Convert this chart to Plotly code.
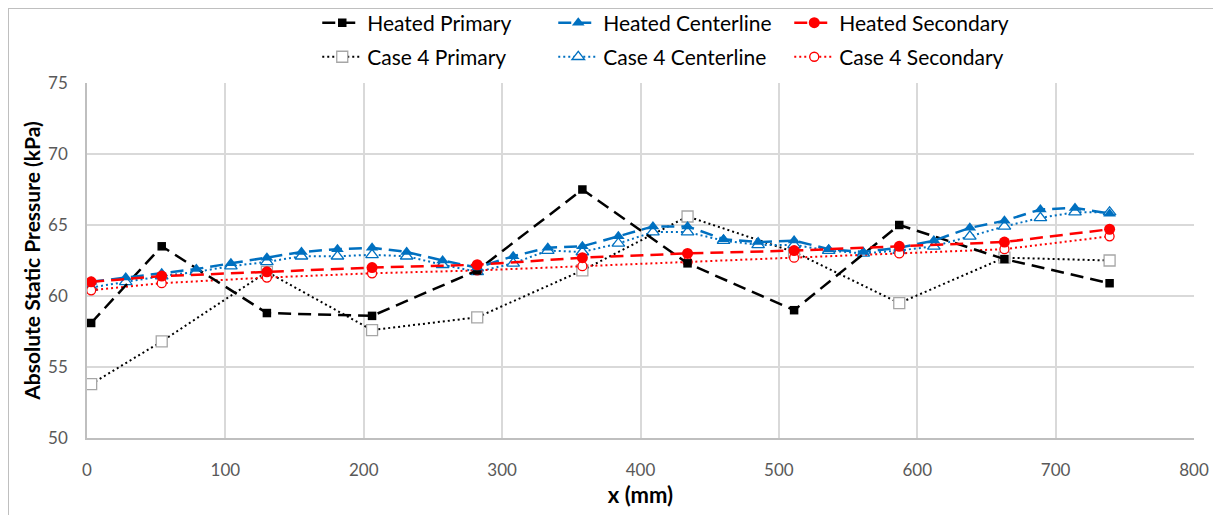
import plotly.graph_objects as go

# ---- data ----
x_ps = [3, 54, 130, 206, 282, 358, 434, 511, 587, 663, 739]
x_cl = [3, 28, 54, 79, 104, 130, 155, 181, 206, 231, 257, 282, 308, 333, 358,
        384, 409, 434, 460, 485, 511, 536, 561, 587, 612, 638, 663, 689, 714, 739]

heated_primary = [58.1, 63.5, 58.8, 58.6, 61.8, 67.5, 62.3, 59.0, 65.0, 62.6, 60.9]
case4_primary = [53.8, 56.8, 61.7, 57.6, 58.5, 61.8, 65.6, 63.1, 59.5, 62.7, 62.5]
heated_secondary = [61.0, 61.4, 61.7, 62.0, 62.2, 62.7, 63.0, 63.2, 63.5, 63.8, 64.7]
case4_secondary = [60.4, 60.9, 61.3, 61.6, 61.8, 62.1, 62.4, 62.7, 63.0, 63.3, 64.2]
heated_centerline = [61.0, 61.3, 61.6, 61.9, 62.3, 62.7, 63.1, 63.3, 63.4, 63.1,
                     62.5, 62.0, 62.8, 63.4, 63.5, 64.2, 64.9, 64.9, 64.0, 63.8,
                     63.9, 63.3, 63.1, 63.4, 63.9, 64.8, 65.3, 66.1, 66.2, 65.8]
case4_centerline = [60.6, 61.0, 61.4, 61.7, 62.1, 62.4, 62.8, 62.8, 62.9, 62.8,
                    62.2, 61.7, 62.3, 63.2, 63.1, 63.7, 64.5, 64.5, 63.9, 63.6,
                    63.6, 63.2, 63.0, 63.2, 63.5, 64.2, 64.9, 65.5, 65.9, 65.9]

x_ticks = [0, 100, 200, 300, 400, 500, 600, 700, 800]
y_ticks = [50, 55, 60, 65, 70, 75]

BLUE = "#0070C0"
RED = "#FF0000"
BLACK = "#000000"
GRAY = "#A6A6A6"

fig = go.Figure()

# Case 4 (legend row 2)
fig.add_trace(go.Scatter(
    x=x_ps, y=case4_primary, name="Case 4 Primary", mode="lines+markers",
    line=dict(color=BLACK, width=2, dash="2px,3px"),
    marker=dict(symbol="square", size=11, color="white", line=dict(color=GRAY, width=1.3)),
    legend="legend2"))
fig.add_trace(go.Scatter(
    x=x_cl, y=case4_centerline, name="Case 4 Centerline", mode="lines+markers",
    line=dict(color=BLUE, width=2, dash="2px,3px"),
    marker=dict(symbol="triangle-up", size=11, color="white", line=dict(color=BLUE, width=1.3)),
    legend="legend2"))
fig.add_trace(go.Scatter(
    x=x_ps, y=case4_secondary, name="Case 4 Secondary", mode="lines+markers",
    line=dict(color=RED, width=2, dash="2px,3px"),
    marker=dict(symbol="circle", size=9, color="white", line=dict(color=RED, width=1.3)),
    legend="legend2"))

# Heated (legend row 1)
fig.add_trace(go.Scatter(
    x=x_ps, y=heated_primary, name="Heated Primary", mode="lines+markers",
    line=dict(color=BLACK, width=2.5, dash="13px,7px"),
    marker=dict(symbol="square", size=8.5, color=BLACK),
    legend="legend"))
fig.add_trace(go.Scatter(
    x=x_cl, y=heated_centerline, name="Heated Centerline", mode="lines+markers",
    line=dict(color=BLUE, width=2.5, dash="13px,7px"),
    marker=dict(symbol="triangle-up", size=11, color=BLUE),
    legend="legend"))
fig.add_trace(go.Scatter(
    x=x_ps, y=heated_secondary, name="Heated Secondary", mode="lines+markers",
    line=dict(color=RED, width=2.5, dash="13px,7px"),
    marker=dict(symbol="circle", size=11, color=RED),
    legend="legend"))

# page body adds an 8px offset; figure sized to fit the 1221x515 window
W, H = 1213, 507
L, R, T, B = 79, 27, 75, 77
PW, PH = W - L - R, H - T - B

FONT = "Lato, Liberation Sans, Arial, sans-serif"
leg_common = dict(orientation="h", entrywidth=181, entrywidthmode="pixels",
                  font=dict(family=FONT, size=21, color="#000000"),
                  bgcolor="rgba(0,0,0,0)", traceorder="normal",
                  xanchor="left", yanchor="middle", itemwidth=40)

x_edge = -L / PW
y_edge = 1 + T / PH

fig.update_layout(
    width=W, height=H,
    margin=dict(l=L, r=R, t=T, b=B, autoexpand=False),
    paper_bgcolor="white", plot_bgcolor="white",
    font=dict(family=FONT, color="#595959"),
    showlegend=True,
    legend=dict(x=0.208, y=1.169, **leg_common),
    legend2=dict(x=0.208, y=1.073, **leg_common),
    xaxis=dict(range=[0, 800], tickvals=x_ticks, ticktext=[str(v) for v in x_ticks],
               showgrid=True, gridcolor="#D9D9D9", gridwidth=1.5,
               showline=True, linecolor="#BFBFBF", linewidth=1.5,
               zeroline=False, ticks="", ticklabelstandoff=16,
               tickfont=dict(size=17, color="#595959"),
               title=dict(text="<b>x (mm)</b>", font=dict(size=22, color="#000000"), standoff=8)),
    yaxis=dict(range=[50, 75], tickvals=y_ticks, ticktext=[str(v) for v in y_ticks],
               showgrid=True, gridcolor="#D9D9D9", gridwidth=1.5,
               showline=True, linecolor="#BFBFBF", linewidth=1.5,
               zeroline=False, ticks="", ticklabelstandoff=14,
               tickfont=dict(size=17, color="#595959"),
               title=dict(text="<b>Absolute Static Pressure (kPa)</b>",
                          font=dict(size=21, color="#000000"), standoff=2)),
    shapes=[
        dict(type="line", xref="paper", yref="paper", x0=x_edge, x1=1.2, y0=y_edge, y1=y_edge,
             line=dict(color="#BFBFBF", width=2)),
        dict(type="line", xref="paper", yref="paper", x0=x_edge, x1=x_edge, y0=-0.3, y1=y_edge,
             line=dict(color="#BFBFBF", width=2)),
    ],
)

fig.write_html("out.html")
